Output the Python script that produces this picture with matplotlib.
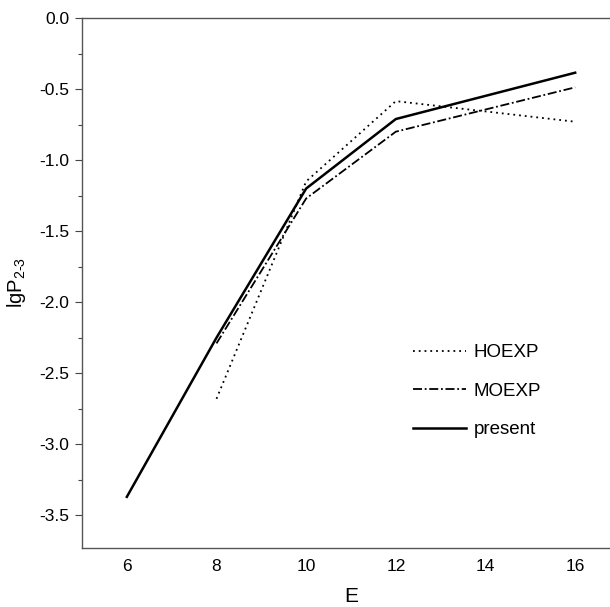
import matplotlib
matplotlib.use("Agg")
import matplotlib.pyplot as plt
from matplotlib.ticker import MultipleLocator

plt.rcParams['font.family'] = ['Liberation Sans', 'DejaVu Sans']
plt.rcParams['axes.unicode_minus'] = False
plt.rcParams['mathtext.fontset'] = 'custom'
plt.rcParams['mathtext.rm'] = 'Liberation Sans'
plt.rcParams['mathtext.it'] = 'Liberation Sans'

E_ho = [8, 10, 12, 16]
lgP_ho = [-2.68, -1.15, -0.585, -0.73]
E_mo = [8, 10, 12, 16]
lgP_mo = [-2.29, -1.27, -0.80, -0.488]
E_pr = [6, 8, 10, 12, 16]
lgP_pr = [-3.37, -2.25, -1.20, -0.711, -0.385]
labels = ["HOEXP", "MOEXP", "present"]
xticks = [6, 8, 10, 12, 14, 16]
yticks = [0.0, -0.5, -1.0, -1.5, -2.0, -2.5, -3.0, -3.5]

fig = plt.figure(figsize=(6.10, 6.07), dpi=100)
ax = fig.add_axes([82/610, 1-548/607, 538/610, 530/607])

ax.plot(E_ho, lgP_ho, color='black', lw=1.3, linestyle=(0, (1, 2.2)), label=labels[0])
ax.plot(E_mo, lgP_mo, color='black', lw=1.3, linestyle=(0, (5, 1.5, 1, 1.5)), label=labels[1])
ax.plot(E_pr, lgP_pr, color='black', lw=1.8, linestyle='-', label=labels[2])

ax.set_xlim(5, 17)
ax.set_ylim(-3.73, 0.0)
ax.set_xticks(xticks)
ax.set_yticks(yticks)
ax.set_yticklabels([f"{v:.1f}" for v in yticks])
ax.yaxis.set_minor_locator(MultipleLocator(0.25))
ax.tick_params(axis='x', length=0, pad=8, labelsize=12.5)
ax.tick_params(axis='y', which='major', direction='out', length=5, width=0.8, pad=4, labelsize=12.5, color='#444')
ax.tick_params(axis='y', which='minor', direction='out', length=3, width=0.8, color='#444')

for s in ['left', 'bottom', 'top']:
    ax.spines[s].set_color('#555555')
    ax.spines[s].set_linewidth(1.0)
ax.spines['right'].set_visible(False)

ax.set_xlabel("E", fontsize=15, labelpad=9)
ax.set_ylabel(r"lgP$_{\mathregular{2}\text{-}\mathregular{3}}$", fontsize=14.5, labelpad=8)

leg = ax.legend(loc='upper left', bbox_to_anchor=((413-82)/538, (548-344)/530),
                frameon=False, fontsize=13.5, handlelength=2.8, handletextpad=0.45,
                labelspacing=1.15, borderaxespad=0, borderpad=0)

fig.savefig("out.png", dpi=100)
